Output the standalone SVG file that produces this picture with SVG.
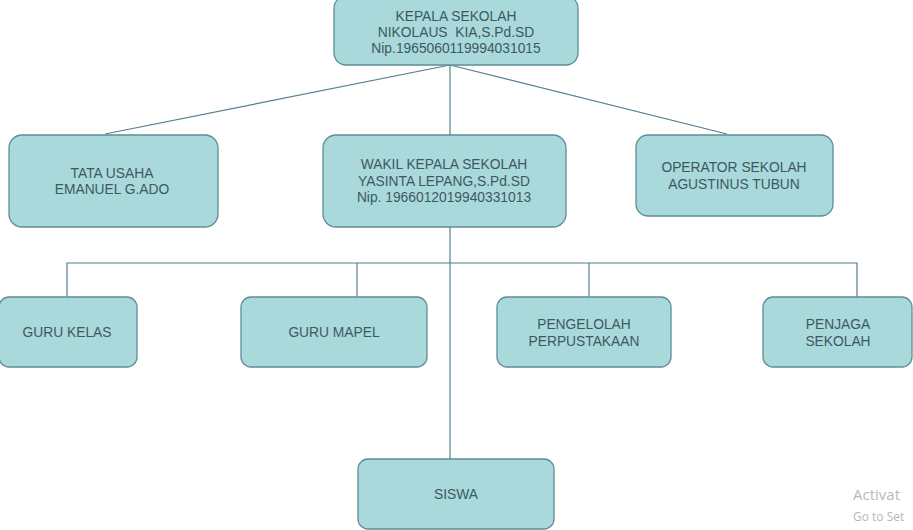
<svg xmlns="http://www.w3.org/2000/svg" width="913" height="530" viewBox="0 0 913 530">
<style>
.box{fill:#a9d9da;stroke:#5f8d98;stroke-width:1.3}
.t{font-family:"Liberation Sans",Arial,sans-serif;font-size:13.8px;fill:#3d5864;text-anchor:middle}
.c{fill:none;stroke:#537f8c;stroke-width:1.2}
.wm{font-family:"Open Sans","DejaVu Sans",sans-serif;fill:#b8b8b8}
</style>
<rect width="913" height="530" fill="#ffffff"/>
<g id="connectors">
<line class="c" x1="450" y1="65" x2="105" y2="134"/>
<line class="c" x1="450" y1="65" x2="450" y2="135"/>
<line class="c" x1="450" y1="65" x2="727" y2="134"/>
<line class="c" x1="450" y1="227" x2="450" y2="459"/>
<polyline class="c" points="67,297 67,263 857,263 857,297"/>
<line class="c" x1="357" y1="263" x2="357" y2="297"/>
<line class="c" x1="589" y1="263" x2="589" y2="297"/>
</g>
<g id="kepala">
<rect class="box" x="334" y="-4" width="244" height="69" rx="12"/>
<text class="t" x="456" y="21">KEPALA SEKOLAH</text>
<text class="t" x="456" y="37" xml:space="preserve">NIKOLAUS  KIA,S.Pd.SD</text>
<text class="t" x="456" y="53">Nip.1965060119994031015</text>
</g>
<g id="tata-usaha">
<rect class="box" x="9" y="135" width="209" height="92" rx="13"/>
<text class="t" x="112" y="177.5">TATA USAHA</text>
<text class="t" x="112" y="193.5">EMANUEL G.ADO</text>
</g>
<g id="wakil">
<rect class="box" x="323" y="135" width="243" height="92" rx="13"/>
<text class="t" x="444" y="169">WAKIL KEPALA SEKOLAH</text>
<text class="t" x="444" y="185.5">YASINTA LEPANG,S.Pd.SD</text>
<text class="t" x="444" y="202">Nip. 1966012019940331013</text>
</g>
<g id="operator">
<rect class="box" x="636" y="135" width="197" height="81" rx="12"/>
<text class="t" x="734" y="172">OPERATOR SEKOLAH</text>
<text class="t" x="734" y="188.5">AGUSTINUS TUBUN</text>
</g>
<g id="guru-kelas">
<rect class="box" x="-1" y="297" width="138" height="70" rx="10"/>
<text class="t" x="67" y="336.5">GURU KELAS</text>
</g>
<g id="guru-mapel">
<rect class="box" x="241" y="297" width="186" height="70" rx="10"/>
<text class="t" x="334" y="336.5">GURU MAPEL</text>
</g>
<g id="pengelolah">
<rect class="box" x="497" y="297" width="174" height="70" rx="10"/>
<text class="t" x="584" y="329">PENGELOLAH</text>
<text class="t" x="584" y="345.5">PERPUSTAKAAN</text>
</g>
<g id="penjaga">
<rect class="box" x="763" y="297" width="149" height="70" rx="10"/>
<text class="t" x="838" y="329">PENJAGA</text>
<text class="t" x="838" y="345.5">SEKOLAH</text>
</g>
<g id="siswa">
<rect class="box" x="358" y="459" width="196" height="70" rx="10"/>
<text class="t" x="456" y="498.5">SISWA</text>
</g>
<text class="wm" x="853" y="500" font-size="15">Activat</text>
<text class="wm" x="853" y="521" font-size="12">Go to Set</text>
</svg>
